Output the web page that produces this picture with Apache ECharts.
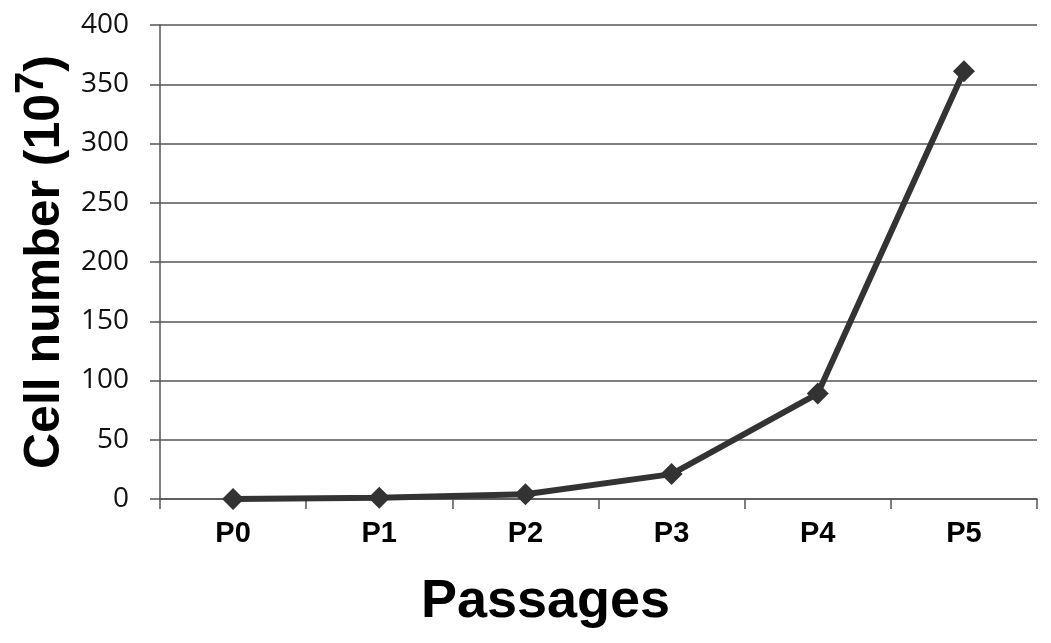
<!DOCTYPE html>
<html>
<head>
<meta charset="utf-8">
<script src="https://cdn.jsdelivr.net/npm/echarts@6/dist/echarts.min.js"></script>
<style>
  html, body { margin: 0; padding: 0; background: #fff; }
  #chart { width: 1051px; height: 643px; }
</style>
</head>
<body>
<div id="chart"></div>
<script>
const passages = ['P0', 'P1', 'P2', 'P3', 'P4', 'P5'];
const cellNumbers = [0, 1, 4, 21, 89, 361];
const yTicks = { min: 0, max: 400, interval: 50 };

const chart = echarts.init(document.getElementById('chart'));

const gridColor = '#555';

chart.setOption({
  animation: false,
  grid: { left: 160, right: 14, top: 25, bottom: 144 },
  xAxis: {
    type: 'category',
    data: passages,
    boundaryGap: true,
    name: 'Passages',
    nameLocation: 'middle',
    nameGap: 76,
    nameTextStyle: {
      fontFamily: 'Liberation Sans', fontWeight: 'bold', fontSize: 54, color: '#000',
      padding: [0, 106, 0, 0]
    },
    axisLine: { lineStyle: { color: gridColor, width: 1.5 } },
    axisTick: { show: true, length: 10, lineStyle: { color: gridColor, width: 1.5 } },
    axisLabel: { margin: 20, fontFamily: 'Liberation Sans', fontWeight: 'bold', fontSize: 29, color: '#000' }
  },
  yAxis: {
    type: 'value',
    min: yTicks.min,
    max: yTicks.max,
    interval: yTicks.interval,
    name: 'Cell number (10{sup|7})',
    nameLocation: 'middle',
    nameGap: 79,
    nameTextStyle: {
      fontFamily: 'Liberation Sans', fontWeight: 'bold', fontSize: 50, color: '#000',
      rich: {
        sup: { fontFamily: 'Liberation Sans', fontWeight: 'bold', fontSize: 40, color: '#000', verticalAlign: 'top', padding: [0, 0, 26, 0] }
      }
    },
    axisLine: { show: true, lineStyle: { color: gridColor, width: 1.5 } },
    axisTick: { show: true, length: 10, lineStyle: { color: gridColor, width: 1.5 } },
    splitLine: { lineStyle: { color: gridColor, width: 1.5 } },
    axisLabel: { margin: 31, fontFamily: 'Open Sans', fontSize: 28, color: '#111' }
  },
  series: [{
    type: 'line',
    data: cellNumbers,
    symbol: 'diamond',
    symbolSize: 22,
    lineStyle: { color: '#333', width: 6 },
    itemStyle: { color: '#333' }
  }]
});
</script>
</body>
</html>
